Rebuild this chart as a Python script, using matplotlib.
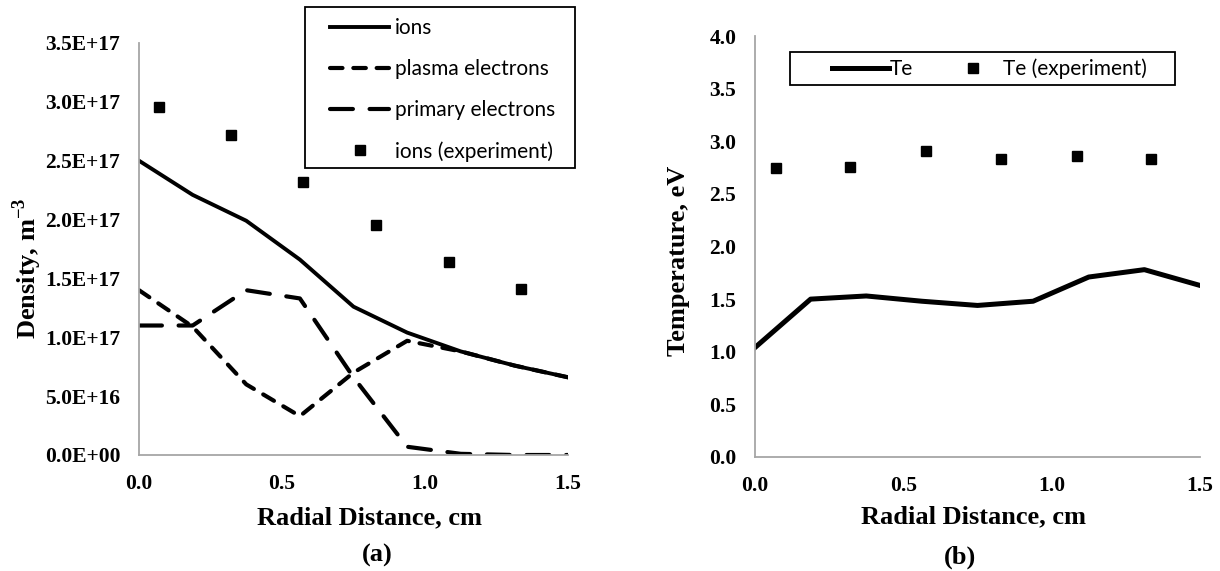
import numpy as np
import matplotlib
matplotlib.use('Agg')
import matplotlib.pyplot as plt
from matplotlib.ticker import FuncFormatter
from matplotlib.patches import Rectangle

# radial positions of the simulation grid, cm
r_sim = [0.0, 0.1875, 0.375, 0.5625, 0.75, 0.9375, 1.125, 1.3125, 1.5]
# densities, 1E17 m^-3
n_ions = [2.50, 2.21, 1.99, 1.66, 1.26, 1.04, 0.88, 0.76, 0.66]
n_plasma_e = [1.40, 1.09, 0.60, 0.33, 0.70, 0.97, 0.88, 0.76, 0.66]
n_primary_e = [1.10, 1.10, 1.40, 1.33, 0.66, 0.07, 0.01, 0.0, 0.0]
# experiment
r_exp = [0.07, 0.32, 0.575, 0.83, 1.085, 1.335]
n_ions_exp = [2.96, 2.72, 2.32, 1.95, 1.64, 1.41]

# electron temperature, eV
te_sim = [1.04, 1.50, 1.53, 1.48, 1.44, 1.48, 1.71, 1.78, 1.63]
te_exp = [2.75, 2.76, 2.91, 2.83, 2.86, 2.83]

plt.rcParams['font.family'] = 'Liberation Serif'
plt.rcParams['font.weight'] = 'bold'
plt.rcParams['axes.labelweight'] = 'bold'
plt.rcParams['mathtext.fontset'] = 'custom'
plt.rcParams['mathtext.rm'] = 'Liberation Serif:bold'
plt.rcParams['mathtext.bf'] = 'Liberation Serif:bold'

legfont = dict(family='Lato', size=15, weight='normal')
gray = '#a6a6a6'
W, H = 1220., 571.

fig = plt.figure(figsize=(12.2, 5.71), dpi=100)
ax1 = fig.add_axes([139/W, 1-455/H, 429/W, 412/H])
ax2 = fig.add_axes([755/W, 1-457/H, 445/W, 421/H])

def style(ax):
    for s in ['top', 'right']:
        ax.spines[s].set_visible(False)
    for s in ['left', 'bottom']:
        ax.spines[s].set_color(gray)
        ax.spines[s].set_linewidth(1.3)
    ax.tick_params(length=0, pad=13.5, labelsize=15.5)

# ---- (a) density
scale = 1e17
ax1.plot(r_sim, np.array(n_ions) * scale, color='black', lw=2.8, label='ions')
ax1.plot(r_sim, np.array(n_plasma_e) * scale, color='black', lw=3, ls=(0, (3, 2.6)),
         dash_capstyle='round', label='plasma electrons')
ax1.plot(r_sim, np.array(n_primary_e) * scale, color='black', lw=3, ls=(0, (5.5, 4)),
         dash_capstyle='round', label='primary electrons')
ax1.plot(r_exp, np.array(n_ions_exp) * scale, 's', color='black', ms=6.5,
         label='ions (experiment)')
ax1.set_xlim(0, 1.5)
ax1.set_ylim(0, 3.5e17)
ax1.set_xticks([0, 0.5, 1.0, 1.5])
ax1.set_yticks(np.arange(0, 3.51e17, 0.5e17))
ax1.xaxis.set_major_formatter(FuncFormatter(lambda v, p: '%.1f' % v))
def sci(v, p):
    if v == 0:
        return '0.0E+00'
    e = int(np.floor(np.log10(abs(v)) + 1e-9))
    return '%.1fE+%02d' % (v / 10**e, e)
ax1.yaxis.set_major_formatter(FuncFormatter(sci))
style(ax1)
ax1.set_xlabel('Radial Distance, cm', fontsize=19)
ax1.set_ylabel('Density, m$^{-3}$', fontsize=19)
ax1.xaxis.label.set_va('center')
ax1.yaxis.label.set_va('center')
ax1.xaxis.set_label_coords(0.538, -63/412.)
ax1.yaxis.set_label_coords((27-139)/429., (455-268)/412.)

fig.patches.append(Rectangle((305/W, 1-168/H), 270/W, 161/H, transform=fig.transFigure,
                             fill=False, edgecolor='black', lw=1.3))
ax1.legend(loc='center left', bbox_to_anchor=(320/W, 1-90/H), bbox_transform=fig.transFigure,
           prop=legfont, frameon=False, borderpad=0, handlelength=2.8,
           handletextpad=0.3, labelspacing=1.0)

# ---- (b) temperature
ax2.plot(r_sim, te_sim, color='black', lw=3.6, label='Te')
ax2.plot(r_exp, te_exp, 's', color='black', ms=6.5, label='Te (experiment)')
ax2.set_xlim(0, 1.5)
ax2.set_ylim(0, 4.0)
ax2.set_xticks([0, 0.5, 1.0, 1.5])
ax2.set_yticks(np.arange(0, 4.01, 0.5))
ax2.xaxis.set_major_formatter(FuncFormatter(lambda v, p: '%.1f' % v))
ax2.yaxis.set_major_formatter(FuncFormatter(lambda v, p: '%.1f' % v))
style(ax2)
ax2.set_xlabel('Radial Distance, cm', fontsize=19)
ax2.set_ylabel('Temperature, eV', fontsize=19)
ax2.xaxis.label.set_va('center')
ax2.yaxis.label.set_va('center')
ax2.xaxis.set_label_coords(0.49, -60/421.)
ax2.yaxis.set_label_coords((679-755)/445., (457-261)/421.)

fig.patches.append(Rectangle((790/W, 1-85/H), 385/W, 33/H, transform=fig.transFigure,
                             fill=False, edgecolor='black', lw=1.3))
ax2.legend(loc='center left', bbox_to_anchor=(822/W, 1-68.5/H), bbox_transform=fig.transFigure,
           ncol=2, prop=legfont, frameon=False, borderpad=0, handlelength=2.7,
           handletextpad=0.05, columnspacing=1.55)

fig.text(377/W, 1-555/H, '(a)', ha='center', va='center', fontsize=19)
fig.text(960/W, 1-557/H, '(b)', ha='center', va='center', fontsize=19)

fig.savefig('out.png', dpi=100)
